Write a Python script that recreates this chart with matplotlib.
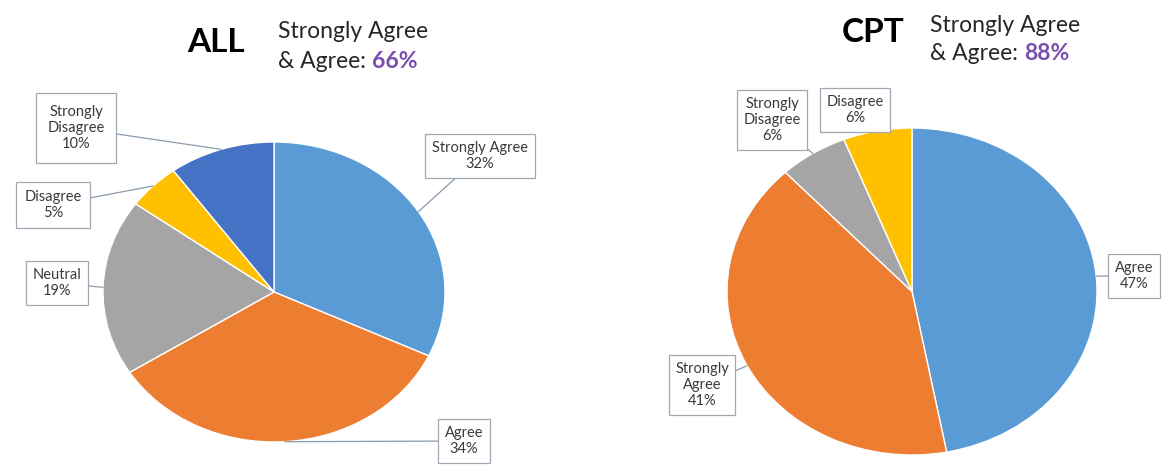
import numpy as np
import matplotlib
matplotlib.use("Agg")
import matplotlib.pyplot as plt

plt.rcParams['font.family'] = ['Lato', 'DejaVu Sans']

# ---- data ----
all_labels = ["Strongly Agree", "Agree", "Neutral", "Disagree", "Strongly Disagree"]
all_values = [32, 34, 19, 5, 10]
all_colors = ["#5B9BD5", "#ED7D31", "#A5A5A5", "#FFC000", "#4472C4"]

cpt_labels = ["Agree", "Strongly Agree", "Strongly Disagree", "Disagree"]
cpt_values = [47, 41, 6, 6]
cpt_colors = ["#5B9BD5", "#ED7D31", "#A5A5A5", "#FFC000"]

all_title = "ALL"
cpt_title = "CPT"
all_combined = 66
cpt_combined = 88

W, H = 1170, 475
fig = plt.figure(figsize=(W / 100, H / 100), dpi=100)
fig.patch.set_facecolor("white")


def pie_axes(cx, cy, rx, ry):
    """Axes whose unit circle maps onto an ellipse centred at (cx, cy) px (y down)."""
    return fig.add_axes([(cx - rx) / W, (H - cy - ry) / H, 2 * rx / W, 2 * ry / H])


def draw_pie(ax, values, colors, labels, label_boxes, text_override=None):
    wedges, _ = ax.pie(values, colors=colors, startangle=90, counterclock=False,
                       radius=1.0, wedgeprops=dict(edgecolor="white", linewidth=1.0))
    ax.set_aspect("auto")
    ax.set_xlim(-1, 1)
    ax.set_ylim(-1, 1)
    ax.axis("off")
    text_override = text_override or {}
    for w, lab, val, (bx, by, pad) in zip(wedges, labels, values, label_boxes):
        mid = np.deg2rad((w.theta1 + w.theta2) / 2)
        x, y = np.cos(mid), np.sin(mid)
        txt = text_override.get(lab, "{lab}\n{val}%").format(lab=lab, val=val)
        ax.annotate(txt, xy=(x, y), xycoords="data",
                    xytext=(bx, H - by), textcoords="figure pixels",
                    ha="center", va="center", fontsize=10.5, color="#3A3A3A",
                    linespacing=1.2,
                    bbox=dict(boxstyle=f"square,pad={pad}", fc="white",
                              ec="#9FA8B3", lw=0.9),
                    arrowprops=dict(arrowstyle="-", color="#8C9BAE", lw=0.9,
                                    shrinkA=0, shrinkB=0),
                    annotation_clip=False, zorder=5)
    return wedges


# left pie
ax1 = pie_axes(274, 292, 171, 150)
draw_pie(ax1, all_values, all_colors, all_labels,
         [(480, 156, 0.45), (464, 441, 0.45), (57, 283, 0.45),
          (53, 205, 0.55), (76, 128, 0.8)],
         text_override={"Strongly Disagree": "Strongly\nDisagree\n{val}%"})

# right pie
ax2 = pie_axes(912, 291.5, 185, 163.5)
draw_pie(ax2, cpt_values, cpt_colors, cpt_labels,
         [(1134, 276, 0.45), (702, 385, 0.45), (772, 120, 0.45), (855, 110, 0.45)],
         text_override={"Strongly Agree": "Strongly\nAgree\n{val}%",
                        "Strongly Disagree": "Strongly\nDisagree\n{val}%"})

# headings
renderer = fig.canvas.get_renderer()


def heading(title, tx, ty, sx, sy, pct):
    fig.text(tx / W, 1 - ty / H, title, fontsize=24, fontweight="bold",
             ha="center", va="center", color="black")
    fig.text(sx / W, 1 - sy / H, "Strongly Agree", fontsize=16.5,
             ha="left", va="center", color="#262626")
    t = fig.text(sx / W, 1 - (sy + 29) / H, "& Agree: ", fontsize=16.5,
                 ha="left", va="center", color="#262626")
    bb = t.get_window_extent(renderer)
    fig.text(bb.x1 / W, 1 - (sy + 29) / H, f"{pct}%", fontsize=16.5,
             fontweight="bold", ha="left", va="center", color="#7A4FB0")


heading(all_title, 216, 42, 278, 32, all_combined)
heading(cpt_title, 873, 33, 930, 25, cpt_combined)

fig.savefig("out.png", dpi=100, facecolor="white")
